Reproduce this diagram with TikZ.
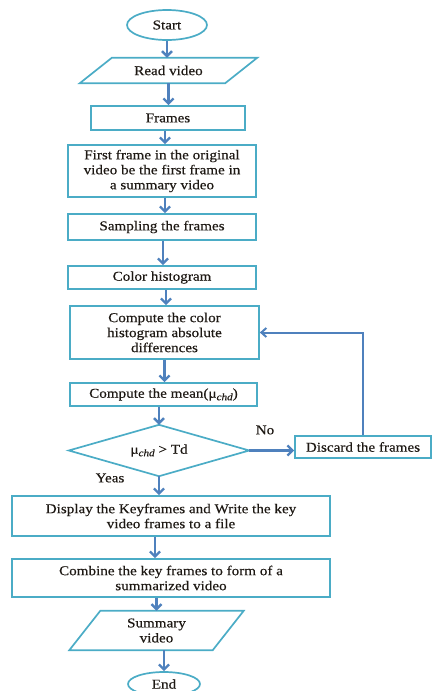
\documentclass[tikz,border=0pt]{standalone}
\usepackage{fontspec}
\setmainfont{Liberation Serif}[FakeStretch=1.12,FakeBold=0.4]
\usetikzlibrary{shapes.geometric,arrows.meta}
\definecolor{boxc}{RGB}{75,172,198}
\definecolor{arrc}{RGB}{79,129,189}
\definecolor{txtc}{RGB}{30,25,20}
\newcommand{\flowfont}{\fontsize{13.5pt}{15pt}\selectfont}
% mean symbol with italic subscript "chd"
\newcommand{\muchd}{μ\raisebox{-2.5pt}{\fontsize{10pt}{10pt}\selectfont\textit{chd}}}
\begin{document}
\begin{tikzpicture}[x=1pt,y=-1pt,
  border/.style={draw=boxc, line width=1.7pt},
  box/.style={border, rectangle, align=center, inner sep=0pt, font=\flowfont, text=txtc},
  term/.style={border, ellipse, inner sep=0pt, font=\flowfont, text=txtc},
  plain/.style={rectangle, align=center, inner sep=0pt, font=\flowfont, text=txtc},
  flow/.style={draw=arrc, line width=2.4pt, -{Straight Barb[length=5pt,width=10pt]}},
  backflow/.style={draw=arrc, line width=2pt, -{Straight Barb[length=5pt,width=9pt]}},
  lbl/.style={font=\flowfont, text=txtc, inner sep=0pt}]
\useasboundingbox (0,0) rectangle (432,691);

% terminals
\node[term, minimum width=80pt, minimum height=30pt] (start) at (167,25) {Start};
\node[term, minimum width=72pt, minimum height=24pt] (end) at (164,684) {End};

% input: read video
\node[plain, minimum width=145pt, minimum height=25pt] (read) at (168.5,70.5) {Read video};
\draw[border] ([xshift=16pt]read.north west) -- ([xshift=16pt]read.north east)
  -- ([xshift=-16pt]read.south east) -- ([xshift=-16pt]read.south west) -- cycle;

% processing steps
\node[box, minimum width=154pt, minimum height=24pt] (frames) at (168,118) {Frames};
\node[box, minimum width=188pt, minimum height=52pt] (first) at (162,171)
  {First frame in the original\\video be the first frame in\\a summary video};
\node[box, minimum width=188pt, minimum height=26pt] (sampling) at (162,227) {Sampling the frames};
\node[box, minimum width=188pt, minimum height=23pt] (colorh) at (162,277.5) {Color histogram};
\node[box, minimum width=189pt, minimum height=53pt] (absdiff) at (164.5,332.5)
  {Compute the color\\histogram absolute\\differences};
\node[box, minimum width=187pt, minimum height=23pt] (mean) at (163.5,394.5)
  {Compute the mean(\muchd)};

% decision
\node[plain, minimum width=180pt, minimum height=51pt] (dec) at (159,450.5) {\muchd{} > Td};
\draw[border] (dec.north) -- (dec.east) -- (dec.south) -- (dec.west) -- cycle;

\node[box, minimum width=136pt, minimum height=22pt] (discard) at (363,447) {Discard the frames};

\node[box, minimum width=318pt, minimum height=40pt] (display) at (171,516)
  {Display the Keyframes and Write the key\\video frames to a file};
\node[box, minimum width=318pt, minimum height=38pt] (combine) at (171,578)
  {Combine the key frames to form of a\\summarized video};

% output: summary video
\node[plain, minimum width=143pt, minimum height=39pt] (summary) at (156.5,630.5) {Summary\\video};
\draw[border] ([xshift=15.5pt]summary.north west) -- ([xshift=15.5pt]summary.north east)
  -- ([xshift=-15.5pt]summary.south east) -- ([xshift=-15.5pt]summary.south west) -- cycle;

% branch labels
\node[lbl] (no) at (265,430) {No};
\node[lbl] (yes) at (110,478) {Yeas};

% connectors
\draw[flow] (start.south) -- (start.south |- read.north);
\draw[flow] (read.south) -- (read.south |- frames.north);
\draw[flow] ([xshift=-3pt]frames.south) -- ([xshift=-3pt]frames.south |- first.north);
\draw[flow] ([xshift=3pt]first.south) -- ([xshift=3pt]first.south |- sampling.north);
\draw[flow] ([xshift=1pt]sampling.south) -- ([xshift=1pt]sampling.south |- colorh.north);
\draw[flow] ([xshift=4pt]colorh.south) -- ([xshift=4pt]colorh.south |- absdiff.north);
\draw[flow] (absdiff.south) -- (absdiff.south |- mean.north);
\draw[flow] (mean.south -| dec.north) -- (dec.north);
\draw[flow] (dec.east) -- (dec.east -| discard.west);
\draw[backflow] (discard.north) |- (absdiff.east);
\draw[flow] (dec.south) -- (dec.south |- display.north);
\draw[flow] ([xshift=-16pt]display.south) -- ([xshift=-16pt]display.south |- combine.north);
\draw[flow] (summary.north |- combine.south) -- (summary.north);
\draw[flow] (end.north |- summary.south) -- (end.north);
\end{tikzpicture}
\end{document}
